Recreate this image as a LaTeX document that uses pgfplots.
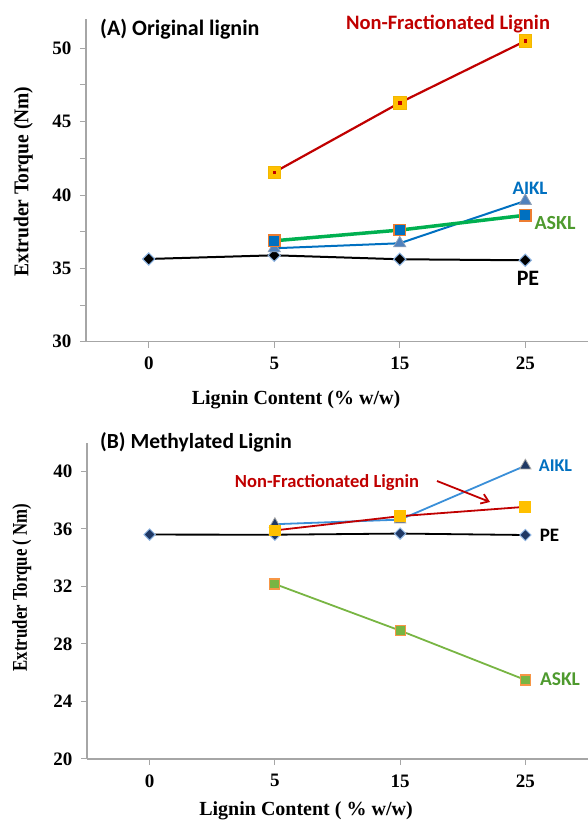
\documentclass[border=0pt]{standalone}
\usepackage{fontspec}
\setmainfont{Liberation Serif}
\newfontfamily\calib{Carlito}
\usepackage{pgfplots}
\pgfplotsset{compat=1.18}
\usetikzlibrary{arrows.meta}
\definecolor{axgray}{HTML}{A6A6A6}
\definecolor{nfred}{HTML}{C00000}
\definecolor{nfyel}{HTML}{FFC000}
\definecolor{nfyelb}{HTML}{F2B800}
\definecolor{aiblue}{HTML}{0070C0}
\definecolor{aiblue2}{HTML}{3A8FD8}
\definecolor{trifill}{HTML}{4F81BD}
\definecolor{tridraw}{HTML}{8EA0B8}
\definecolor{askgreen}{HTML}{00B050}
\definecolor{askgreen2}{HTML}{78B543}
\definecolor{asktext}{HTML}{4E9A2E}
\definecolor{sqorange}{HTML}{ED7D31}
\definecolor{sqorange2}{HTML}{F79646}
\definecolor{pelight}{HTML}{8DB4E2}
\definecolor{navy}{HTML}{1F3864}
\pgfplotsset{
  common/.style={
    scale only axis,
    axis lines*=left,
    axis line style={draw=axgray, line width=1.2pt},
    tick style={draw=axgray, line width=1pt},
    tick align=outside,
    major tick length=6pt,
    minor tick length=6pt,
    xmin=-0.5, xmax=3.5,
    xtick={0,1,2,3},
    xticklabels={0,5,15,25},
    /pgf/number format/assume math mode=true,
    tick label style={font=\fontsize{19}{21}\selectfont\bfseries},
    yticklabel style={xshift=-5pt},
    xticklabel style={yshift=-6pt},
    clip=false,
  }
}
\begin{document}
\begin{tikzpicture}
\path[use as bounding box] (0pt,0pt) rectangle (588pt,822pt);
% ---------- Panel A ----------
\begin{axis}[common, at={(86pt,480.3pt)}, anchor=south west,
  width=502pt, height=322.7pt,
  ymin=30, ymax=52,
  ytick={30,35,40,45,50},
  minor ytick={32.5,37.5,42.5,47.5}]
\addplot[black, line width=2pt, mark=square*, mark size=4.3pt,
  mark options={rotate=45, fill=black, draw=pelight, line width=1pt}]
  coordinates {(0,35.64) (1,35.89) (2,35.62) (3,35.55)};
\addplot[aiblue, line width=2pt, mark=triangle*, mark size=7pt,
  mark options={fill=trifill, draw=tridraw, line width=0.8pt}]
  coordinates {(1,36.37) (2,36.71) (3,39.6)};
\addplot[askgreen, line width=3.5pt, mark=square*, mark size=5.8pt,
  mark options={fill=aiblue, draw=sqorange, line width=1.2pt}]
  coordinates {(1,36.88) (2,37.61) (3,38.62)};
\addplot[nfred, line width=2.2pt, mark=square*, mark size=6.3pt,
  mark options={fill=nfyel, draw=nfyelb, line width=0.8pt, rounded corners=1.5pt}]
  coordinates {(1,41.55) (2,46.29) (3,50.5)};
\addplot[only marks, mark=square*, mark size=1.3pt,
  mark options={fill=nfred, draw=nfred}]
  coordinates {(1,41.55) (2,46.29) (3,50.5)};
\end{axis}
% ---------- Panel B ----------
\begin{axis}[common, at={(87pt,63pt)}, anchor=south west,
  width=501pt, height=316.3pt,
  ymin=20, ymax=42,
  ytick={20,24,28,32,36,40}]
\addplot[black, line width=1.8pt, mark=square*, mark size=4pt,
  mark options={rotate=45, fill=navy, draw=pelight, line width=1pt}]
  coordinates {(0,35.61) (1,35.6) (2,35.68) (3,35.58)};
\addplot[askgreen2, line width=1.8pt, mark=square*, mark size=5pt,
  mark options={fill=askgreen2, draw=sqorange2, line width=1.2pt}]
  coordinates {(1,32.17) (2,28.93) (3,25.5)};
\addplot[aiblue2, line width=1.8pt, mark=triangle*, mark size=6.5pt,
  mark options={fill=navy, draw=axgray, line width=0.8pt}]
  coordinates {(1,36.33) (2,36.65) (3,40.4)};
\addplot[nfred, line width=1.8pt, mark=square*, mark size=5pt,
  mark options={fill=nfyel, draw=nfyel}]
  coordinates {(1,35.9) (2,36.89) (3,37.54)};
\end{axis}
% ---------- Text ----------
\node[anchor=base west, inner sep=0, font=\calib\bfseries\fontsize{22}{24}\selectfont] at (100pt,786pt) {(A) Original lignin};
\node[anchor=base, inner sep=0, text=nfred, font=\calib\bfseries\fontsize{20.5}{22}\selectfont] at (448pt,792.7pt) {Non-Fractionated Lignin};
\node[anchor=base, inner sep=0, text=aiblue, font=\calib\bfseries\fontsize{19}{21}\selectfont] at (530pt,627pt) {AIKL};
\node[anchor=base, inner sep=0, text=asktext, font=\calib\bfseries\fontsize{20}{22}\selectfont] at (555pt,592pt) {ASKL};
\node[anchor=base, inner sep=0, font=\calib\bfseries\fontsize{22}{24}\selectfont] at (528pt,536pt) {PE};
\node[anchor=base west, inner sep=0, font=\calib\bfseries\fontsize{21.5}{24}\selectfont] at (100pt,373.7pt) {(B) Methylated Lignin};
\node[anchor=base, inner sep=0, text=nfred, font=\calib\bfseries\fontsize{18.5}{20}\selectfont] at (327pt,334.3pt) {Non-Fractionated Lignin};
\draw[nfred, line width=1.8pt, -{Straight Barb[length=7pt, width=10pt]}] (437pt,341pt) -- (490pt,320pt);
\node[anchor=base, inner sep=0, text=aiblue, font=\calib\bfseries\fontsize{18}{20}\selectfont] at (555.5pt,350.3pt) {AIKL};
\node[anchor=base, inner sep=0, font=\calib\bfseries\fontsize{19}{21}\selectfont] at (549.5pt,280.3pt) {PE};
\node[anchor=base, inner sep=0, text=asktext, font=\calib\bfseries\fontsize{19.5}{21}\selectfont] at (560pt,136pt) {ASKL};
% axis titles
\node[anchor=base, inner sep=0, font=\bfseries\fontsize{20}{22}\selectfont] at (296pt,417pt) {Lignin Content (\% w/w)};
\node[anchor=base, inner sep=0, font=\bfseries\fontsize{20}{22}\selectfont] at (306pt,6pt) {Lignin Content ( \% w/w)};
\node[rotate=90, anchor=base, inner sep=0, font=\bfseries\fontsize{21}{23}\selectfont] at (28.3pt,640.5pt) {\scalebox{0.93}[1]{Extruder Torque (Nm)}};
\node[rotate=90, anchor=base, inner sep=0, font=\bfseries\fontsize{21}{23}\selectfont] at (27pt,234.5pt) {\scalebox{0.8}[1]{Extruder Torque ( Nm)}};
\end{tikzpicture}
\end{document}
